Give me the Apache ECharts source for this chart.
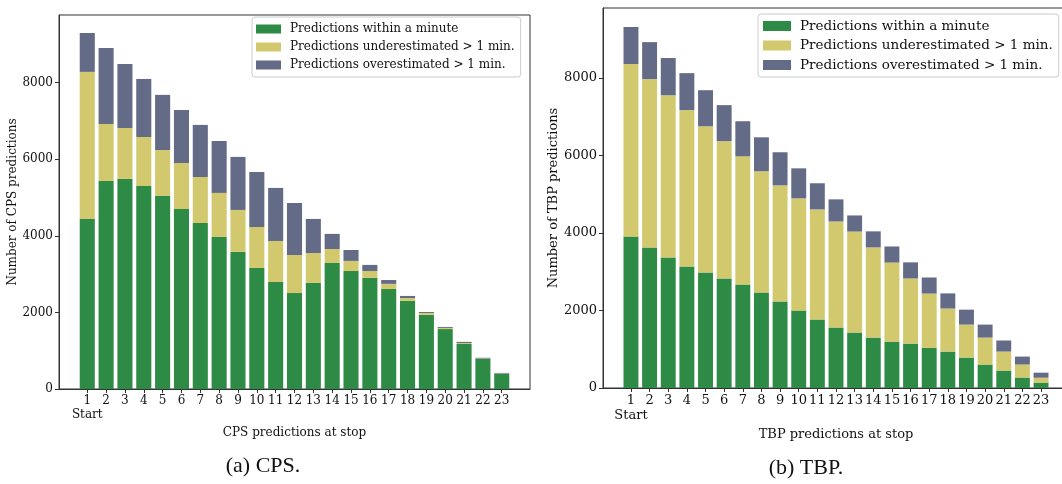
<!DOCTYPE html>
<html>
<head>
<meta charset="utf-8">
<script src="https://cdn.jsdelivr.net/npm/echarts@6/dist/echarts.min.js"></script>
<style>
html,body{margin:0;padding:0;background:#fff;overflow:hidden;width:1062px;height:484px;}
#c{width:1070px;height:484px;}
</style>
</head>
<body>
<div id="c"></div>
<script>
// ---- data ----
// empty slots at both ends reproduce the axis padding of the original
const stops = ['', '1','2','3','4','5','6','7','8','9','10','11','12','13','14','15','16','17','18','19','20','21','22','23', ''];
const seriesNames = ['Predictions within a minute', 'Predictions underestimated > 1 min.', 'Predictions overestimated > 1 min.'];
const yTicks = [0, 2000, 4000, 6000, 8000];

const cpsWithin = [4440,5430,5485,5300,5040,4700,4335,3970,3580,3160,2795,2505,2770,3290,3080,2900,2610,2300,1935,1565,1175,785,400];
const cpsUnder  = [3840,1490,1330,1280,1200,1200,1200,1150,1095,1070,1070,995,780,365,265,180,135,75,50,30,25,10,5];
const cpsOver   = [1015,1985,1670,1515,1440,1385,1360,1355,1385,1435,1385,1355,890,395,285,160,100,55,25,25,30,20,15];

const tbpWithin = [3910,3625,3365,3135,2980,2825,2670,2465,2230,2000,1765,1560,1430,1300,1195,1145,1040,940,785,605,450,270,140];
const tbpUnder  = [4445,4340,4185,4030,3770,3540,3305,3125,2995,2890,2840,2735,2605,2325,2040,1680,1395,1110,850,695,490,335,125];
const tbpOver   = [955,955,960,955,930,930,905,875,855,775,675,570,415,415,415,415,415,390,385,335,285,205,130];

// ---- styles ----
const colors = ['#2E8B46', '#D2C86E', '#636B87'];
const serif = 'DejaVu Serif';
const axisColor = '#333';

function padded(vals){ return [null].concat(vals, [null]); }

function xAxisCfg(gi, name, fs, nameGap){
  return {
    type:'category', gridIndex:gi, data:stops, boundaryGap:true,
    name:name, nameLocation:'middle', nameGap:nameGap,
    nameTextStyle:{fontFamily:serif, fontSize:fs, color:'#111'},
    axisLine:{show:true, lineStyle:{color:axisColor, width:1}},
    axisTick:{show:true, length:4, alignWithLabel:true, interval:function(i,v){ return v !== ''; }, lineStyle:{color:axisColor}},
    axisLabel:{interval:0, margin:5, fontFamily:serif, fontSize:fs, color:'#111', lineHeight:fs+2,
      formatter:function(v){ return v==='1' ? '1\nStart' : v; }},
    splitLine:{show:false}
  };
}
function yAxisCfg(gi, name, max, fs, nameGap){
  return {
    type:'value', gridIndex:gi, min:0, max:max,
    name:name, nameLocation:'middle', nameGap:nameGap,
    nameTextStyle:{fontFamily:serif, fontSize:fs, color:'#111'},
    axisLine:{show:true, onZero:false, lineStyle:{color:axisColor, width:1}},
    axisTick:{show:true, length:4, customValues:yTicks, lineStyle:{color:axisColor}},
    axisLabel:{customValues:yTicks, margin:6, fontFamily:serif, fontSize:fs, color:'#111',
      formatter:function(v){ return String(v); }},
    splitLine:{show:false}
  };
}
function barSeries(gi, stack, arrs){
  return arrs.map((a,k)=>({
    type:'bar', name:seriesNames[k], xAxisIndex:gi, yAxisIndex:gi, stack:stack,
    barWidth:'80%', itemStyle:{color:colors[k]}, data:padded(a), animation:false
  }));
}
function legendCfg(left, top, iw, ih, fs, gap, pad){
  return {
    left:left, top:top, orient:'vertical', icon:'rect',
    itemWidth:iw, itemHeight:ih, itemGap:gap, padding:pad,
    borderColor:'#cccccc', borderWidth:1, borderRadius:3, backgroundColor:'rgba(255,255,255,0.85)',
    textStyle:{fontFamily:serif, fontSize:fs, color:'#111', padding:[0,0,0,4]},
    data:seriesNames, selectedMode:false
  };
}

const chart = echarts.init(document.getElementById('c'), null, {renderer:'canvas'});
chart.setOption({
  animation:false,
  color:colors,
  grid:[
    {left:59, top:15, width:471, height:374, show:true, borderColor:axisColor, borderWidth:1, containLabel:false},
    {left:603, top:8, width:466, height:380, show:true, borderColor:axisColor, borderWidth:1, containLabel:false}
  ],
  xAxis:[ xAxisCfg(0,'CPS predictions at stop',12,34), xAxisCfg(1,'TBP predictions at stop',13,37) ],
  yAxis:[ yAxisCfg(0,'Number of CPS predictions',9765,12,34), yAxisCfg(1,'Number of TBP predictions',9800,13,43) ],
  legend:[ legendCfg(252,17,25,9,12,6,[6,6,6,4]), legendCfg(758,14,28,10,13.5,5.5,[5,6,5,5]) ],
  series:[].concat(
    barSeries(0,'cps',[cpsWithin,cpsUnder,cpsOver]),
    barSeries(1,'tbp',[tbpWithin,tbpUnder,tbpOver])
  ),
  graphic:[
    {type:'text', x:263, y:466, style:{text:'(a) CPS.', align:'center', verticalAlign:'middle', font:'22px "Liberation Serif"', fill:'#111'}},
    {type:'text', x:806, y:468, style:{text:'(b) TBP.', align:'center', verticalAlign:'middle', font:'22px "Liberation Serif"', fill:'#111'}}
  ]
});
</script>
</body>
</html>
